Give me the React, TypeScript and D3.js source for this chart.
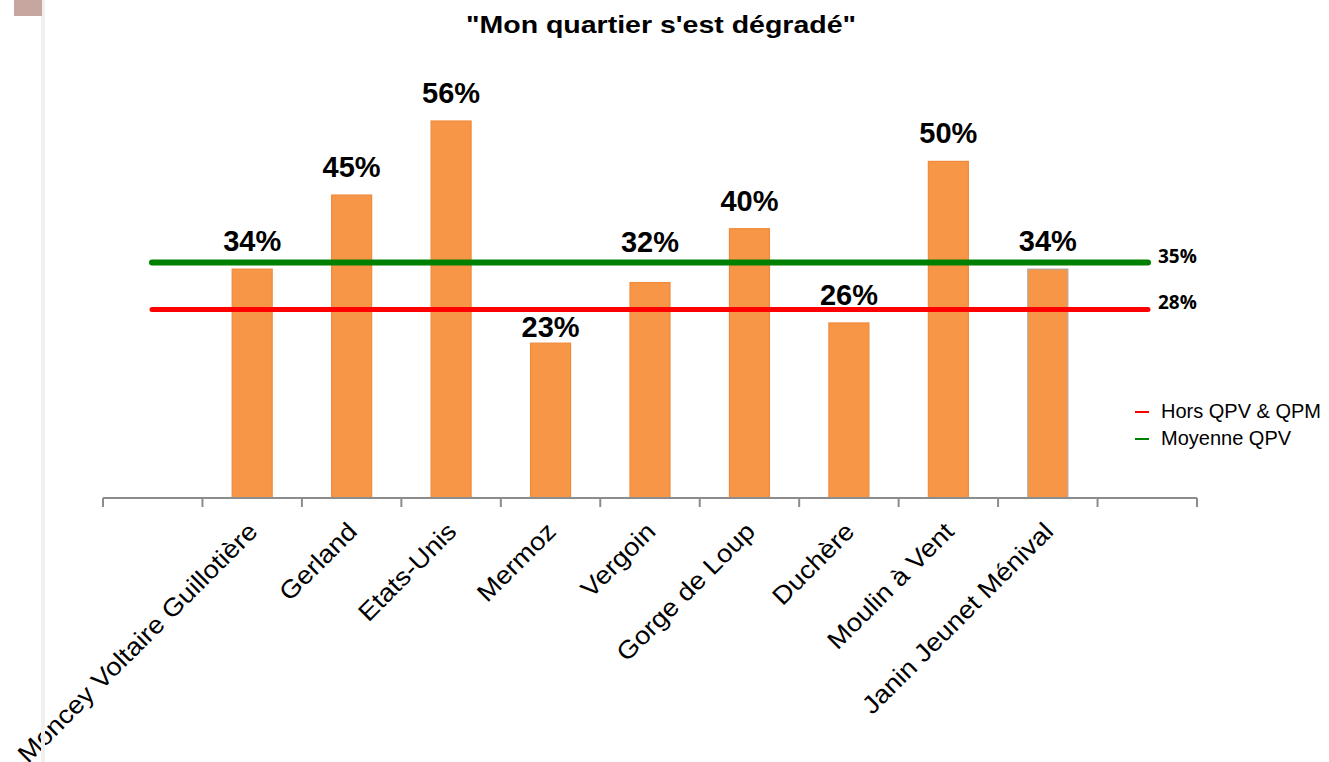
import { useRef, useEffect } from "react";
import * as d3 from "d3";

const slots = ["", "Moncey Voltaire Guillotière", "Gerland", "Etats-Unis", "Mermoz", "Vergoin", "Gorge de Loup", "Duchère", "Moulin à Vent", "Janin Jeunet Ménival", " "];
const categories = slots.slice(1, 10);
const values = [34, 45, 56, 23, 32, 40, 26, 50, 34];
// manual nudges of the value labels (as in the original chart)
const labelNudge = [0, 0, 0, 12, -13, 0, 0, 0, 0];
const refLines = [
  { name: "Moyenne QPV", value: 35, color: "#008000" },
  { name: "Hors QPV & QPM", value: 28, color: "#ff0000" },
];

const App = () => {
  const chartRef = useRef(null);

  useEffect(() => {
    const el = chartRef.current;
    const width = 1329;
    const height = 762;

    const svg = d3
      .select(el)
      .append("svg")
      .attr("width", width)
      .attr("height", height)
      .style("display", "block");

    const x = d3.scaleBand<string>().domain(slots).range([103, 1197]).padding(0);
    const y = d3.scaleLinear().domain([0, 56]).range([498, 121]);
    const barW = 40;
    const mid = (d: string) => (x(d) as number) + x.bandwidth() / 2;

    svg
      .append("text")
      .attr("x", 661)
      .attr("y", 33)
      .attr("text-anchor", "middle")
      .attr("font-family", "Liberation Sans, Arial, sans-serif")
      .attr("font-weight", "bold")
      .attr("font-size", 24)
      .attr("textLength", 390)
      .attr("lengthAdjust", "spacingAndGlyphs")
      .text("\"Mon quartier s'est dégradé\"");

    // bars
    svg
      .selectAll(".bar")
      .data(values)
      .enter()
      .append("rect")
      .attr("class", "bar")
      .attr("x", (_d, i) => mid(categories[i]) - barW / 2)
      .attr("y", d => y(d))
      .attr("width", barW)
      .attr("height", d => 498 - y(d))
      .attr("fill", "#f79646")
      .attr("stroke", (_d, i) => (i === 8 ? "#b0a8a0" : "#ef8a3c"))
      .attr("stroke-width", 1.2);

    svg
      .selectAll(".lbl")
      .data(values)
      .enter()
      .append("text")
      .attr("x", (_d, i) => mid(categories[i]))
      .attr("y", (d, i) => y(d) - 18 + labelNudge[i])
      .attr("text-anchor", "middle")
      .attr("font-family", "Liberation Sans, Arial, sans-serif")
      .attr("font-weight", "bold")
      .attr("font-size", 29)
      .text(d => `${d}%`);

    // axis
    const axis = svg.append("g").attr("stroke", "#8c8c8c").attr("stroke-width", 2);
    axis.append("line").attr("x1", 103).attr("x2", 1197).attr("y1", 498).attr("y2", 498);
    const ticks = slots.map(s => x(s) as number).concat([1197]);
    axis
      .selectAll(".tick")
      .data(ticks)
      .enter()
      .append("line")
      .attr("x1", d => d)
      .attr("x2", d => d)
      .attr("y1", 498)
      .attr("y2", 507);

    svg
      .selectAll(".cat")
      .data(categories)
      .enter()
      .append("text")
      .attr("transform", d => `translate(${mid(d) + 7},${533}) rotate(-45) scale(1.1,1)`)
      .attr("text-anchor", "end")
      .attr("font-family", "Liberation Sans, Arial, sans-serif")
      .attr("font-size", 25)
      .text(d => d);

    // reference lines
    refLines.forEach(r => {
      svg
        .append("line")
        .attr("x1", 152)
        .attr("x2", 1148)
        .attr("y1", y(r.value))
        .attr("y2", y(r.value))
        .attr("stroke", r.color)
        .attr("stroke-width", r.value === 35 ? 6 : 5)
        .attr("stroke-linecap", "round");
      svg
        .append("text")
        .attr("x", 1158)
        .attr("y", y(r.value) + (r.value === 35 ? 1 : -1))
        .attr("font-family", "Open Sans, DejaVu Sans, sans-serif")
        .attr("font-weight", "bold")
        .attr("font-size", 19)
        .text(`${r.value}%`);
    });

    // legend
    const legend = [refLines[1], refLines[0]];
    legend.forEach((r, i) => {
      const ly = 412 + i * 27;
      svg
        .append("line")
        .attr("x1", 1135)
        .attr("x2", 1149)
        .attr("y1", ly)
        .attr("y2", ly)
        .attr("stroke", r.color)
        .attr("stroke-width", 2);
      svg
        .append("text")
        .attr("x", 1161)
        .attr("y", ly + 6)
        .attr("font-family", "Liberation Sans, Arial, sans-serif")
        .attr("font-size", 20)
        .text(r.name);
    });

    // left side strip
    svg.append("rect").attr("x", 41).attr("y", 0).attr("width", 4).attr("height", height).attr("fill", "#f0f0f0");
    svg.append("rect").attr("x", 14).attr("y", 0).attr("width", 28).attr("height", 16).attr("fill", "#c7a6a0");

    return () => {
      d3.select(el).select("svg").remove();
    };
  }, []);

  return <div ref={chartRef} style={{ position: "absolute", left: 0, top: 0 }}></div>;
};

export default App;
